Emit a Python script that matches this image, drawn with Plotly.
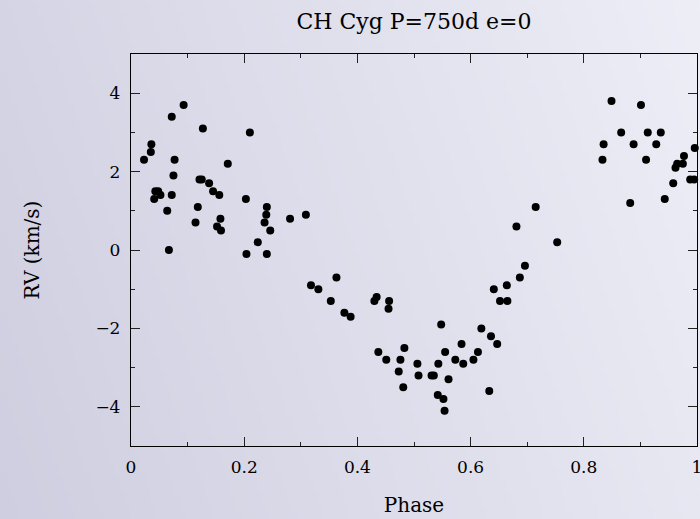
import base64, struct, zlib
import plotly.graph_objects as go

phase = [0.023, 0.035, 0.036, 0.041, 0.043, 0.048, 0.052, 0.064, 0.067, 0.072,
         0.072, 0.075, 0.077, 0.093, 0.114, 0.118, 0.121, 0.125, 0.127, 0.138,
         0.145, 0.152, 0.156, 0.158, 0.159, 0.171, 0.203, 0.204, 0.210, 0.224,
         0.236, 0.239, 0.240, 0.240, 0.246, 0.281, 0.309, 0.318, 0.331, 0.353,
         0.363, 0.377, 0.388, 0.430, 0.434, 0.437, 0.451, 0.455, 0.456, 0.473,
         0.476, 0.481, 0.483, 0.506, 0.508, 0.531, 0.535, 0.542, 0.543, 0.548,
         0.552, 0.554, 0.555, 0.561, 0.573, 0.584, 0.587, 0.605, 0.613, 0.619,
         0.633, 0.636, 0.641, 0.647, 0.652, 0.664, 0.665, 0.681, 0.687, 0.696,
         0.715, 0.753, 0.833, 0.835, 0.849, 0.866, 0.882, 0.888, 0.901, 0.910,
         0.913, 0.928, 0.936, 0.943, 0.958, 0.962, 0.965, 0.975, 0.977, 0.988,
         0.995, 0.996]
rv = [2.3, 2.5, 2.7, 1.3, 1.5, 1.5, 1.4, 1.0, 0.0, 3.4,
      1.4, 1.9, 2.3, 3.7, 0.7, 1.1, 1.8, 1.8, 3.1, 1.7,
      1.5, 0.6, 1.4, 0.8, 0.5, 2.2, 1.3, -0.1, 3.0, 0.2,
      0.7, 0.9, 1.1, -0.1, 0.5, 0.8, 0.9, -0.9, -1.0, -1.3,
      -0.7, -1.6, -1.7, -1.3, -1.2, -2.6, -2.8, -1.5, -1.3, -3.1,
      -2.8, -3.5, -2.5, -2.9, -3.2, -3.2, -3.2, -3.7, -2.9, -1.9,
      -3.8, -4.1, -2.6, -3.3, -2.8, -2.4, -2.9, -2.8, -2.6, -2.0,
      -3.6, -2.2, -1.0, -2.4, -1.3, -0.9, -1.3, 0.6, -0.7, -0.4,
      1.1, 0.2, 2.3, 2.7, 3.8, 3.0, 1.2, 2.7, 3.7, 2.3,
      3.0, 2.7, 3.0, 1.3, 1.7, 2.1, 2.2, 2.2, 2.4, 1.8,
      1.8, 2.6]

title_text = "CH Cyg P=750d e=0"
x_title = "Phase"
y_title = "RV (km/s)"

# ---- background gradient image (pure python PNG) ----
def make_png(w, h, c_left, c_right):
    rows = b""
    for j in range(h):
        row = b"\x00"
        for i in range(w):
            t = 0.8 * i / (w - 1) + 0.2 * (1 - j / (h - 1))
            px = bytes(int(round(a + (b - a) * t)) for a, b in zip(c_left, c_right))
            row += px
        rows += row
    def chunk(tag, data):
        c = struct.pack(">I", len(data)) + tag + data
        return c + struct.pack(">I", zlib.crc32(tag + data) & 0xffffffff)
    png = b"\x89PNG\r\n\x1a\n"
    png += chunk(b"IHDR", struct.pack(">IIBBBBB", w, h, 8, 2, 0, 0, 0))
    png += chunk(b"IDAT", zlib.compress(rows, 9))
    png += chunk(b"IEND", b"")
    return "data:image/png;base64," + base64.b64encode(png).decode()

bg = make_png(140, 104, (206, 206, 224), (238, 238, 247))

# figure slightly wider than the 700px window so the "1" tick label is drawn and cropped
W, H = 712, 519
L, R, T, B = 131, 15, 54, 73
pw, ph = W - L - R, H - T - B

fig = go.Figure()
fig.add_trace(go.Scatter(x=phase, y=rv, mode="markers",
                         marker=dict(color="black", size=8, line=dict(width=0)),
                         cliponaxis=False, hoverinfo="skip"))

fig.add_layout_image(dict(source=bg, xref="paper", yref="paper",
                          x=-L / pw, y=1 + T / ph, sizex=W / pw, sizey=H / ph,
                          xanchor="left", yanchor="top", sizing="stretch",
                          layer="below"))

font = "DejaVu Serif, Liberation Serif, serif"
axis_common = dict(showgrid=False, zeroline=False, showline=True, linecolor="black",
                   linewidth=1.3, mirror="ticks", ticks="inside", ticklen=9,
                   tickwidth=1, tickcolor="#222", automargin=False,
                   tickfont=dict(family=font, size=17, color="black"))

fig.update_layout(
    width=W, height=H,
    margin=dict(l=L, r=R, t=T, b=B, autoexpand=False),
    paper_bgcolor="#e2e2ee", plot_bgcolor="rgba(0,0,0,0)",
    showlegend=False,
    title=dict(text=title_text, x=(L + pw / 2) / W, xanchor="center",
               y=1 - 21 / H, yanchor="middle",
               font=dict(family=font, size=22, color="black")),
    xaxis=dict(range=[0, 1], tick0=0, dtick=0.2,
               minor=dict(dtick=0.1, ticklen=4, ticks="inside", tickcolor="#222"),
               title=dict(text=x_title, standoff=22,
                          font=dict(family=font, size=20, color="black")),
               ticklabelstandoff=5,
               **axis_common),
    yaxis=dict(range=[-5, 5], tick0=0, dtick=2,
               minor=dict(dtick=1, ticklen=4, ticks="inside", tickcolor="#222"),
               title=dict(text=y_title, standoff=50,
                          font=dict(family=font, size=20, color="black")),
               ticklabelstandoff=6,
               **axis_common),
)

fig.write_html("out.html", config={"displayModeBar": False},
               post_script="document.body.style.margin='0';document.body.style.overflow='hidden';")
